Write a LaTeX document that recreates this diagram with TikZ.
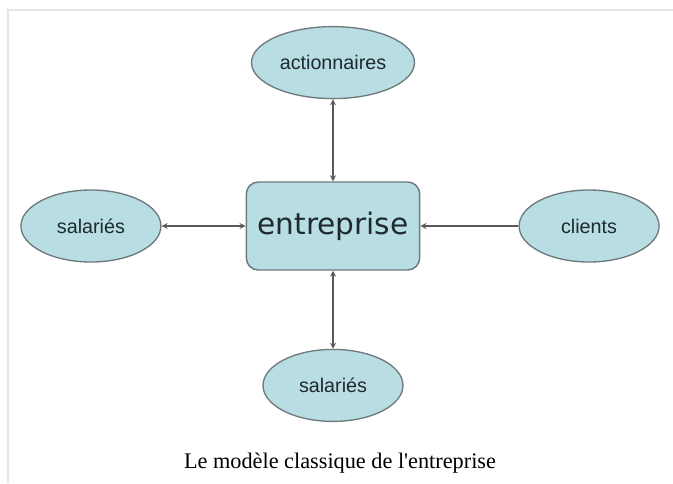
\documentclass[tikz,border=0pt]{standalone}
\usepackage{fontspec}
\usepackage{tikz}
\usepackage{xcolor}
\usetikzlibrary{shapes,arrows,positioning,shapes.geometric}
\setmainfont{Liberation Serif}
\newfontfamily\partyfont{Liberation Sans}
\newfontfamily\firmfont{DejaVu Sans}
\definecolor{shade}{RGB}{184, 221, 226}
\definecolor{outline}{RGB}{110, 122, 126}
\definecolor{ink}{RGB}{30, 42, 48}
\definecolor{framegray}{RGB}{230, 230, 230}
\tikzstyle{link} = [
    line width=1pt,
    stealth-stealth,
    draw=gray!70!black
]
\tikzstyle{party} = [
    ellipse,
    minimum width=105pt,
    minimum height=54pt,
    draw=outline,
    fill=shade,
    line width=1pt,
    text=ink,
    font=\partyfont\fontsize{14.8}{17}\selectfont
]
\tikzstyle{firm} = [
    rectangle,
    rounded corners=9pt,
    minimum width=130pt,
    minimum height=66pt,
    draw=outline,
    fill=shade,
    line width=1.1pt,
    text=ink,
    font=\firmfont\fontsize{22.2}{26}\selectfont
]

\begin{document}
\begin{tikzpicture}[x=0.75pt, y=-0.75pt]
    \useasboundingbox (0,0) rectangle (673,483);
    \draw[framegray, line width=1.5pt] (8,483) -- (8,9.5) -- (673,9.5);
    \node[firm] (entreprise) at (333,226) {entreprise};
    \node[party, above=61.5pt of entreprise] (actionnaires) {actionnaires};
    \node[party, below=58.5pt of entreprise] (salariesbas) {salariés};
    \node[party, left=63pt of entreprise] (salariesgauche) {salariés};
    \node[party, right=73.5pt of entreprise] (clients) {clients};
    \draw[link] (actionnaires) -- (entreprise);
    \draw[link] (salariesbas) -- (entreprise);
    \draw[link] (salariesgauche) -- (entreprise);
    \draw[link, -stealth] (clients) -- (entreprise);
    \node[font=\fontsize{16.7}{20}\selectfont] (legende) at (340,463) {Le modèle classique de l\textquotesingle entreprise};
\end{tikzpicture}
\end{document}
